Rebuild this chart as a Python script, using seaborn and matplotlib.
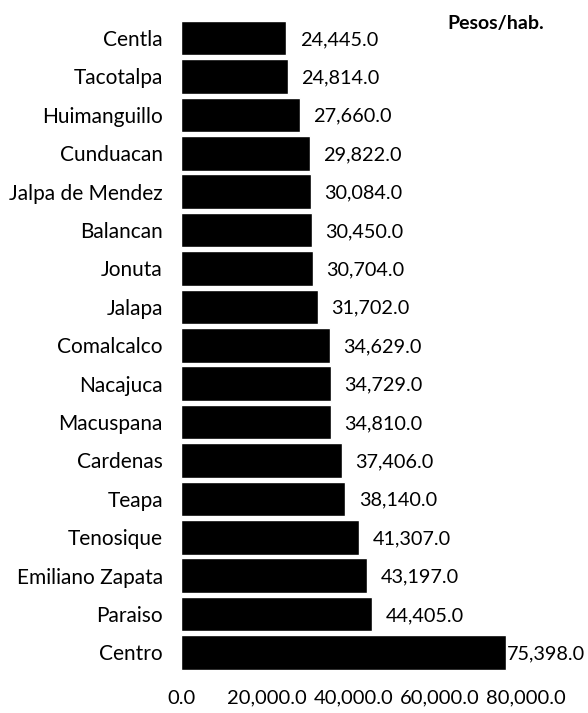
import matplotlib
matplotlib.use("Agg")
import matplotlib.pyplot as plt
import seaborn as sns
import pandas as pd

municipios = ["Centla", "Tacotalpa", "Huimanguillo", "Cunduacan", "Jalpa de Mendez",
              "Balancan", "Jonuta", "Jalapa", "Comalcalco", "Nacajuca", "Macuspana",
              "Cardenas", "Teapa", "Tenosique", "Emiliano Zapata", "Paraiso", "Centro"]
pib_hab = [24445.0, 24814.0, 27660.0, 29822.0, 30084.0, 30450.0, 30704.0, 31702.0,
           34629.0, 34729.0, 34810.0, 37406.0, 38140.0, 41307.0, 43197.0, 44405.0, 75398.0]
x_ticks = [0, 20000, 40000, 60000, 80000]

df = pd.DataFrame({"municipio": municipios, "valor": pib_hab})

sns.set_theme(style="white")
plt.rcParams["font.family"] = ["Lato", "DejaVu Sans"]

fig = plt.figure(figsize=(5.88, 7.13), dpi=100)
ax = fig.add_axes([181 / 588, 1 - 671.7 / 713, 345 / 588, (671.7 - 18.8) / 713])

sns.barplot(data=df, x="valor", y="municipio", orient="h", color="black",
            saturation=1, width=0.9, ax=ax)

ax.set_xlim(0, 80000)
ax.set_xticks(x_ticks)
ax.set_xticklabels([f"{v:,.1f}" for v in x_ticks], fontsize=14.5)
ax.tick_params(axis="x", length=0, pad=13, colors="black")
ax.tick_params(axis="y", length=0, pad=13, labelsize=15, colors="black")
ax.set_xlabel("")
ax.set_ylabel("")
for s in ax.spines.values():
    s.set_visible(False)

vmax = max(pib_hab)
for i, v in enumerate(pib_hab):
    off = 0.3 if v == vmax else 9.5
    ax.annotate(f"{v:,.1f}", xy=(v, i), xytext=(off, -1), textcoords="offset points",
                ha="left", va="center", fontsize=14.3, color="black")

fig.text(447 / 588, 1 - 24 / 713, "Pesos/hab.", fontsize=14, fontweight="bold",
         ha="left", va="center", color="black")

fig.savefig("out.png", dpi=100)
